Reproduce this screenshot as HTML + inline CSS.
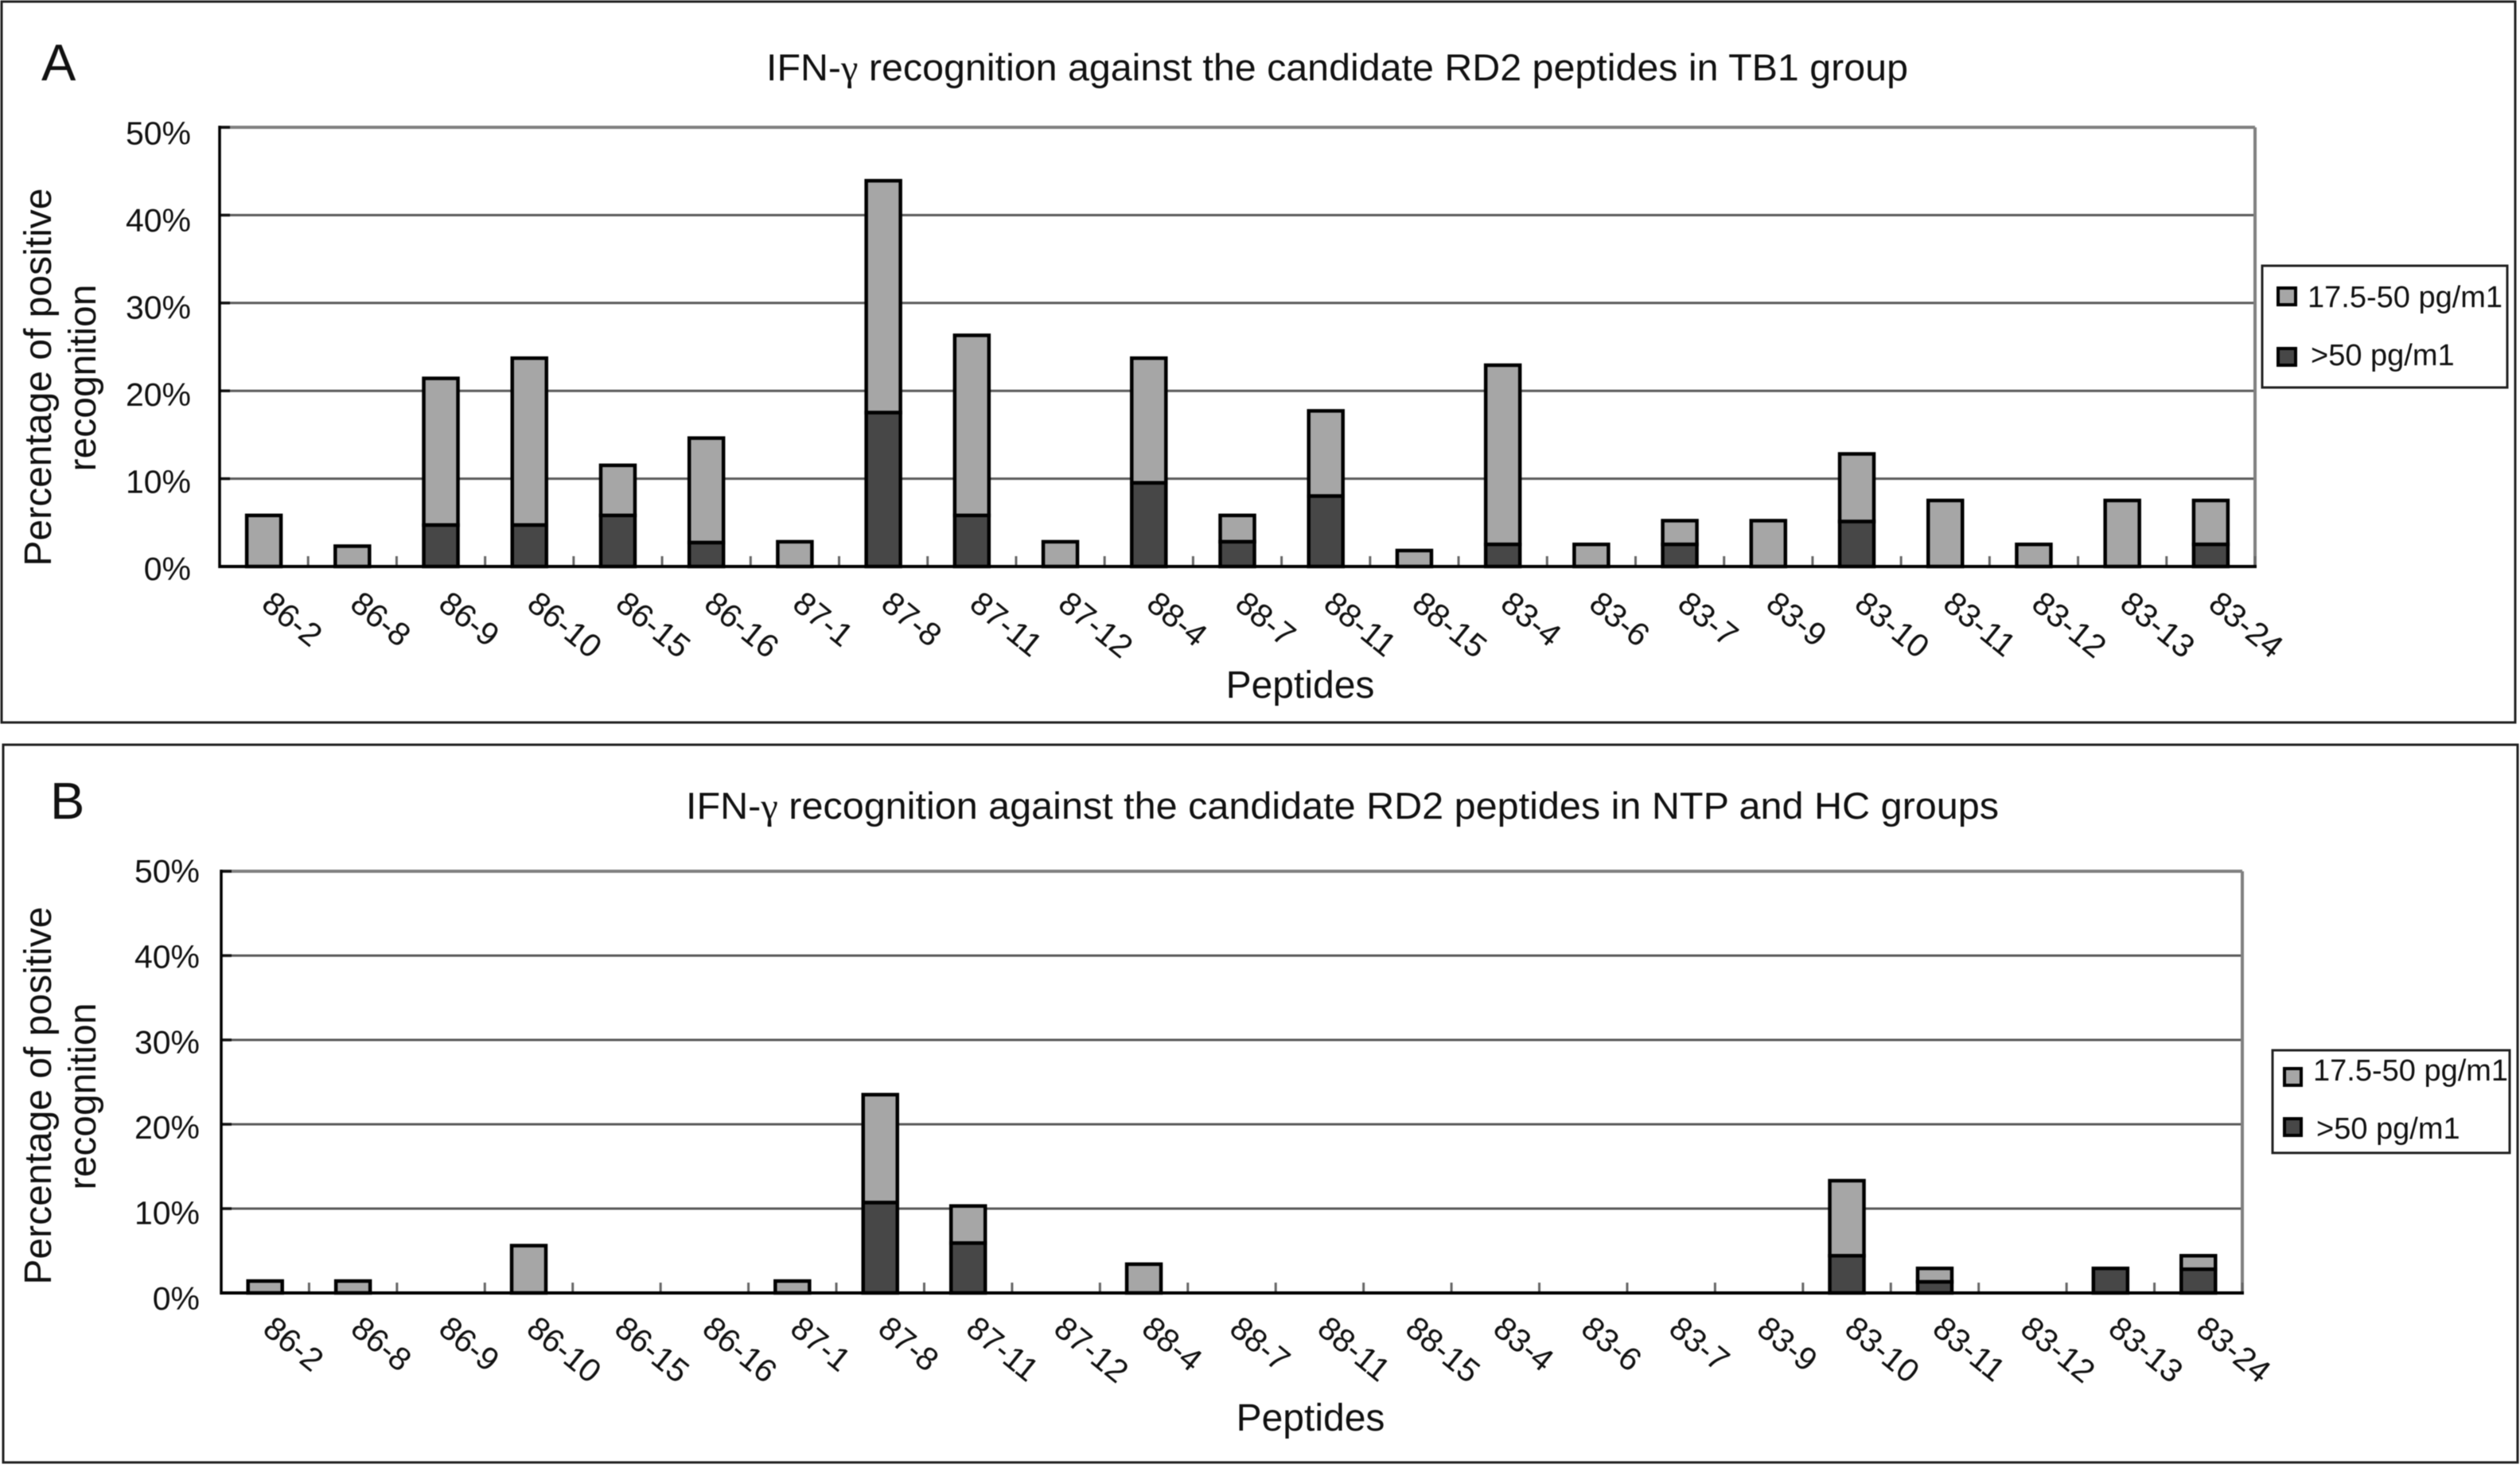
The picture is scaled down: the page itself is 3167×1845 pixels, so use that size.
<!DOCTYPE html>
<html lang="en">
<head>
<meta charset="utf-8">
<title>IFN-γ recognition against candidate RD2 peptides</title>
<style>
html,body{margin:0;padding:0;background:#fff;}
svg{display:block;filter:blur(0.6px);}
text{font-family:"Liberation Sans",Arial,sans-serif;fill:#111;}
.gamma{font-family:"Liberation Serif",serif;}
</style>
</head>
<body>
<svg id="figure" xmlns="http://www.w3.org/2000/svg" width="3167" height="1845" viewBox="0 0 3167 1845">
  <rect x="0" y="0" width="3167" height="1845" fill="#fff"/>

  <g id="panel-a">
    <rect x="2" y="2" width="3159" height="906" fill="none" stroke="#222" stroke-width="3"/>
    <text x="52" y="101" font-size="65">A</text>
    <text x="963" y="101" font-size="47" textLength="1435" lengthAdjust="spacingAndGlyphs">IFN-<tspan class="gamma">γ</tspan> recognition against the candidate RD2 peptides in TB1 group</text>
    <text transform="translate(64,474) rotate(-90)" text-anchor="middle" font-size="48">Percentage of positive</text>
    <text transform="translate(120,475) rotate(-90)" text-anchor="middle" font-size="48">recognition</text>
    <text x="1634" y="877" text-anchor="middle" font-size="48">Peptides</text>
    <g id="plot-a"></g>
    <g>
      <rect x="2843" y="334" width="308" height="153" fill="#fff" stroke="#222" stroke-width="3"/>
      <rect x="2863" y="362" width="22" height="21" fill="#a6a6a6" stroke="#000" stroke-width="4"/>
      <text x="2900" y="386" font-size="38">17.5-50 pg/m1</text>
      <rect x="2863" y="438" width="22" height="21" fill="#474747" stroke="#000" stroke-width="4"/>
      <text x="2904" y="459" font-size="38">&gt;50 pg/m1</text>
    </g>
  </g>

  <g id="panel-b">
    <rect x="4" y="936" width="3160" height="902" fill="none" stroke="#222" stroke-width="3"/>
    <text x="63" y="1029" font-size="65">B</text>
    <text x="862" y="1029" font-size="47" textLength="1650" lengthAdjust="spacingAndGlyphs">IFN-<tspan class="gamma">γ</tspan> recognition against the candidate RD2 peptides in NTP and HC groups</text>
    <text transform="translate(64,1377) rotate(-90)" text-anchor="middle" font-size="48">Percentage of positive</text>
    <text transform="translate(120,1378) rotate(-90)" text-anchor="middle" font-size="48">recognition</text>
    <text x="1647" y="1798" text-anchor="middle" font-size="48">Peptides</text>
    <g id="plot-b"></g>
    <g>
      <rect x="2856" y="1320" width="298" height="129" fill="#fff" stroke="#222" stroke-width="3"/>
      <rect x="2871" y="1343" width="21" height="21" fill="#a6a6a6" stroke="#000" stroke-width="4"/>
      <text x="2907" y="1358" font-size="38">17.5-50 pg/m1</text>
      <rect x="2871" y="1406" width="21" height="21" fill="#474747" stroke="#000" stroke-width="4"/>
      <text x="2911" y="1431" font-size="38">&gt;50 pg/m1</text>
    </g>
  </g>
</svg>

<script>
const categories = ["86-2","86-8","86-9","86-10","86-15","86-16","87-1","87-8","87-11","87-12","88-4","88-7","88-11","88-15","83-4","83-6","83-7","83-9","83-10","83-11","83-12","83-13","83-24"];
const yTicks = [0,10,20,30,40,50];
const yTickLabels = ["0%","10%","20%","30%","40%","50%"];
const panelAHigh = [0,0,4.9,4.9,6,2.9,0,17.7,6,0,9.7,3,8.2,0,2.7,0,2.7,0,5.3,0,0,0,2.7];
const panelALow  = [6,2.5,16.7,19,5.7,11.9,3,26.4,20.5,3,14.2,3,9.7,2,20.4,2.7,2.7,5.4,7.7,7.7,2.7,7.7,5];
const panelBHigh = [0,0,0,0,0,0,0,10.9,6.1,0,0,0,0,0,0,0,0,0,4.6,1.5,0,3.1,3];
const panelBLow  = [1.6,1.6,0,5.8,0,0,1.6,12.8,4.4,0,3.6,0,0,0,0,0,0,0,8.9,1.6,0,0,1.6];

const NS = "http://www.w3.org/2000/svg";

function add(parent, tag, attrs) {
  const el = document.createElementNS(NS, tag);
  for (const k in attrs) el.setAttribute(k, attrs[k]);
  parent.appendChild(el);
  return el;
}

function drawPanel(cfg) {
  const root = document.getElementById(cfg.id);
  const n = categories.length;
  const step = (cfg.x1 - cfg.x0) / n;
  const xBand = i => cfg.x0 + step * i;
  const xMid = i => xBand(i) + step / 2;
  const y = v => cfg.y0 + (cfg.y50 - cfg.y0) * v / 50;
  const yLabel = v => cfg.labelY0 - cfg.labelStep * v;

  yTicks.forEach(v => {
    if (v === 0 || v === 50) return;
    const line = add(root, "line", {x1: cfg.x0, x2: cfg.x1, y1: y(v), y2: y(v), stroke: "#5a5a5a", "stroke-width": 3});
    
    
  });

  const top = add(root, "line", {x1: cfg.x0, x2: cfg.x1, y1: y(50), y2: y(50), stroke: "#808080", "stroke-width": 4});
  
  
  const right = add(root, "line", {x1: cfg.x1, x2: cfg.x1, y1: y(50), y2: y(0), stroke: "#808080", "stroke-width": 4});
  
  

  yTicks.forEach(v => {
    const tick = add(root, "line", {x1: cfg.x0, x2: cfg.x0 + 13, y1: y(v), y2: y(v), stroke: "#111", "stroke-width": 3.5});
    
    
  });

  for (let i = 1; i <= n; i++) {
    const tick = add(root, "line", {x1: xBand(i), x2: xBand(i), y1: y(0), y2: y(0) - 13, stroke: "#666", "stroke-width": 3});
    
    
  }

  categories.forEach((c, i) => {
    const high = cfg.high[i];
    const low = cfg.low[i];
    const barW = 43;
    if (low > 0) {
      const bottom = high > 0 ? y(high) + 2 : y(0);
      const r = add(root, "rect", {x: xMid(i) - barW / 2, y: y(high + low) + 2, width: barW, height: bottom - y(high + low) - 2, fill: "#a6a6a6", stroke: "#000", "stroke-width": 4.5});
      
      
    }
    if (high > 0) {
      const r = add(root, "rect", {x: xMid(i) - barW / 2, y: y(high) + 2, width: barW, height: y(0) - y(high) - 2, fill: "#474747", stroke: "#000", "stroke-width": 4.5});
      
      
    }
    const t = add(root, "text", {"font-size": 41, transform: "translate(" + (xMid(i) - 5) + "," + cfg.catY + ") rotate(39)"});
    t.textContent = c;
    
    
  });

  const left = add(root, "line", {x1: cfg.x0, x2: cfg.x0, y1: y(50) - 2, y2: y(0) + 2, stroke: "#000", "stroke-width": 3.5});
  
  
  const bottomAxis = add(root, "line", {x1: cfg.x0, x2: cfg.x1 + 2, y1: y(0), y2: y(0), stroke: "#000", "stroke-width": 4});
  
  

  yTicks.forEach((v, i) => {
    const t = add(root, "text", {x: cfg.labelX, y: yLabel(v), "text-anchor": "end", "font-size": 41});
    t.textContent = yTickLabels[i];
    
    
  });
}

drawPanel({id: "plot-a", x0: 276, x1: 2834, y0: 712, y50: 160, high: panelAHigh, low: panelALow, catY: 763, labelX: 240, labelY0: 729, labelStep: 10.95});
drawPanel({id: "plot-b", x0: 278, x1: 2818, y0: 1625, y50: 1095, high: panelBHigh, low: panelBLow, catY: 1674, labelX: 251, labelY0: 1646, labelStep: 10.74});
</script>
</body>
</html>
